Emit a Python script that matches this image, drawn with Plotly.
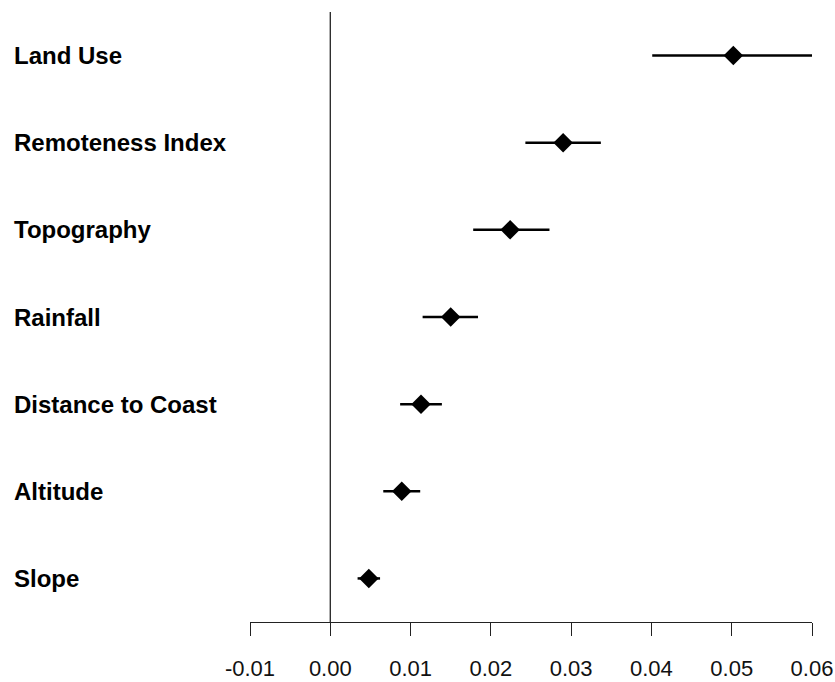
import plotly.graph_objects as go

categories = ["Land Use", "Remoteness Index", "Topography", "Rainfall",
              "Distance to Coast", "Altitude", "Slope"]
estimates = [0.0502, 0.0290, 0.0224, 0.0150, 0.0113, 0.0089, 0.0048]
lower = [0.0401, 0.0243, 0.0178, 0.0115, 0.0087, 0.0066, 0.0034]
upper = [0.0601, 0.0337, 0.0273, 0.0184, 0.0139, 0.0112, 0.0062]
tick_vals = [-0.01, 0.0, 0.01, 0.02, 0.03, 0.04, 0.05, 0.06]
tick_text = ["-0.01", "0.00", "0.01", "0.02", "0.03", "0.04", "0.05", "0.06"]

n = len(categories)
ypos = list(range(n, 0, -1))
err_plus = [u - e for u, e in zip(upper, estimates)]
err_minus = [e - l for e, l in zip(estimates, lower)]

fig = go.Figure()
fig.add_trace(go.Scatter(
    x=estimates, y=ypos, mode="markers",
    marker=dict(symbol="diamond", size=15, color="black", line=dict(width=0)),
    error_x=dict(type="data", symmetric=False, array=err_plus, arrayminus=err_minus,
                 width=0, thickness=2.5, color="black"),
    showlegend=False, hoverinfo="skip",
))

# zero reference line
fig.add_shape(type="line", xref="x", yref="paper", x0=0, x1=0, y0=0, y1=1,
              line=dict(color="#222222", width=1.3), layer="below")

for cat, y in zip(categories, ypos):
    fig.add_annotation(text="<b>" + cat + "</b>", xref="paper", yref="y",
                       x=-0.424, y=y, xanchor="left", yanchor="middle",
                       showarrow=False,
                       font=dict(family="Liberation Sans, Arial, sans-serif",
                                 size=24, color="black"))

fig.update_layout(
    width=835, height=682,
    margin=dict(l=250, r=23, t=12, b=60),
    plot_bgcolor="white", paper_bgcolor="white",
    font=dict(family="Liberation Sans, Arial, sans-serif", size=22, color="#111111"),
    xaxis=dict(range=[-0.01, 0.06], tickvals=tick_vals, ticktext=tick_text,
               showgrid=False, zeroline=False, showline=True, linecolor="#222222",
               linewidth=1.3, ticks="outside", ticklen=13, tickwidth=1.3,
               tickcolor="#222222", ticklabelstandoff=13, automargin=False,
               tickfont=dict(size=22, color="#111111")),
    yaxis=dict(range=[0.5, n + 0.5], showgrid=False, zeroline=False,
               showline=False, showticklabels=False, ticks="", automargin=False),
)

fig.write_html("out.html", config={"displayModeBar": False},
               post_script="document.body.style.margin='0';document.body.style.padding='0';")
